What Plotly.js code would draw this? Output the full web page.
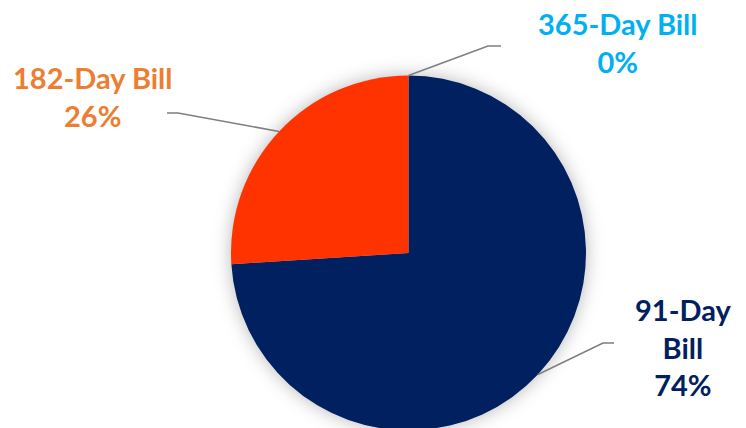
<!DOCTYPE html>
<html>
<head>
<meta charset="utf-8">
<script src="https://cdn.plot.ly/plotly-3.0.1.min.js"></script>
<style>
  html, body { margin: 0; padding: 0; overflow: hidden; background: #ffffff; }
  #chart { width: 746px; height: 431px; }
  g.pielayer { filter: drop-shadow(0px 0px 9px rgba(0,0,0,0.28)); }
</style>
</head>
<body>
<div id="chart"></div>
<script>
// ---- data ----
const categories = ['91-Day Bill', '182-Day Bill', '365-Day Bill'];
const values = [74, 26, 0];
const sliceColors = ['#002060', '#FF3300', '#D9D9D9'];
const labelColors = ['#002060', '#ED7D31', '#00B0F0'];

// ---- layout geometry (pixels) ----
const W = 746, H = 431;
const cx = 408.5, cy = 253, R = 177.5;
const px = x => x / W;
const py = y => 1 - y / H;

// label block positions and leader elbow points (pixels)
const labelPos = [
  { x: 683, y: 347, wrap: true },
  { x: 93,  y: 97,  wrap: false },
  { x: 618, y: 43,  wrap: false }
];
const elbows = [
  { ex: 603, ey: 343, tx: 614 },
  { ex: 178, ey: 113, tx: 167 },
  { ex: 488, ey: 46,  tx: 501 }
];

const total = values.reduce((a, b) => a + b, 0);
let cum = 0;
const shapes = [];
const annotations = [];
values.forEach((v, i) => {
  const mid = (cum + v / 2) / total * 2 * Math.PI;
  cum += v;
  const sx = cx + R * Math.sin(mid);
  const sy = cy - R * Math.cos(mid);
  const e = elbows[i];
  shapes.push({
    type: 'path', xref: 'paper', yref: 'paper',
    path: `M ${px(sx)} ${py(sy)} L ${px(e.ex)} ${py(e.ey)} L ${px(e.tx)} ${py(e.ey)}`,
    line: { color: '#7F7F7F', width: 1.6 }
  });
  const pct = Math.round(v / total * 100) + '%';
  const name = labelPos[i].wrap ? categories[i].replace(' ', '<br>') : categories[i];
  annotations.push({
    xref: 'paper', yref: 'paper',
    x: px(labelPos[i].x), y: py(labelPos[i].y),
    xanchor: 'center', yanchor: 'middle',
    text: name + '<br>' + pct,
    showarrow: false, align: 'center',
    font: { family: 'Lato, "Open Sans", sans-serif', size: 29, color: labelColors[i], weight: 700 }
  });
});

const trace = {
  type: 'pie',
  labels: categories,
  values: values,
  sort: false,
  direction: 'clockwise',
  rotation: 0,
  marker: { colors: sliceColors, line: { width: 0 } },
  textinfo: 'none',
  hoverinfo: 'skip',
  showlegend: false,
  domain: { x: [px(cx - R), px(cx + R)], y: [py(cy + R), py(cy - R)] }
};

const layout = {
  width: W, height: H,
  margin: { l: 0, r: 0, t: 0, b: 0 },
  paper_bgcolor: '#ffffff',
  plot_bgcolor: '#ffffff',
  showlegend: false,
  shapes: shapes,
  annotations: annotations
};

Plotly.newPlot('chart', [trace], layout, { displayModeBar: false, staticPlot: true });
</script>
</body>
</html>
